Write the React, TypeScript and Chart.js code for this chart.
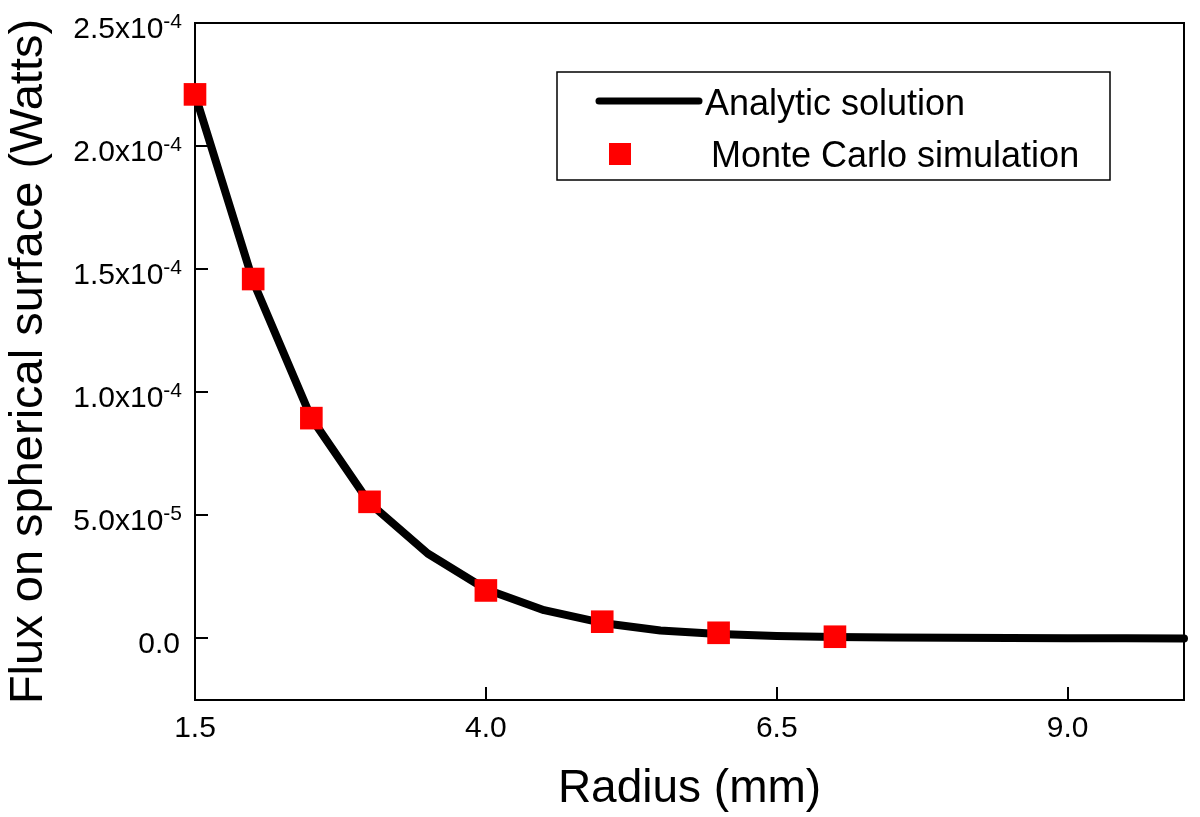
import React, { useEffect, useRef } from "react";
import { Chart, registerables } from "chart.js";

Chart.register(...registerables);

const analyticX = [1.5, 2.0, 2.5, 3.0, 3.5, 4.0, 4.5, 5.0, 5.5, 6.0, 6.5, 7.0, 7.5, 8.0, 8.5, 9.0, 9.5, 10.0];
const analyticY = [2.21e-4, 1.45e-4, 8.95e-5, 5.5e-5, 3.45e-5, 2.0e-5, 1.15e-5, 6.3e-6, 3.2e-6, 1.8e-6, 1.0e-6, 6e-7, 4e-7, 3e-7, 2e-7, 1e-7, 1e-7, 0];
const monteX = [1.5, 2.0, 2.5, 3.0, 4.0, 5.0, 6.0, 7.0];
const monteY = [2.21e-4, 1.46e-4, 8.95e-5, 5.55e-5, 1.95e-5, 6.8e-6, 2.3e-6, 7e-7];

const xTicks = [1.5, 4.0, 6.5, 9.0];
const xTickLabels = ["1.5", "4.0", "6.5", "9.0"];
const yTicks = [0, 5e-5, 1e-4, 1.5e-4, 2e-4, 2.5e-4];
const yTickBase = ["0.0", "5.0x10", "1.0x10", "1.5x10", "2.0x10", "2.5x10"];
const yTickExp = ["", "-5", "-4", "-4", "-4", "-4"];

const seriesNames = ["Monte Carlo simulation", "Analytic solution"];
const xTitle = "Radius (mm)";
const yTitle = "Flux on spherical surface (Watts)";

const FONT = '"Liberation Sans", Arial, sans-serif';

const decorPlugin = {
  id: "decor",
  beforeDatasetsDraw(chart: any) {
    const { ctx, chartArea: a, scales } = chart;
    ctx.save();
    ctx.strokeStyle = "#000";
    ctx.lineWidth = 2;
    ctx.strokeRect(a.left, a.top, a.right - a.left, a.bottom - a.top);
    ctx.beginPath();
    yTicks.forEach((v) => {
      const y = Math.round(scales.y.getPixelForValue(v));
      ctx.moveTo(a.left, y);
      ctx.lineTo(a.left + 13, y);
    });
    xTicks.forEach((v) => {
      const x = Math.round(scales.x.getPixelForValue(v));
      ctx.moveTo(x, a.bottom);
      ctx.lineTo(x, a.bottom - 13);
    });
    ctx.stroke();
    ctx.restore();
  },
  afterDraw(chart: any) {
    const { ctx, chartArea: a, scales } = chart;
    ctx.save();
    ctx.fillStyle = "#000";
    ctx.textBaseline = "alphabetic";
    // y tick labels with superscript exponents
    yTicks.forEach((v, i) => {
      const y = scales.y.getPixelForValue(v);
      const right = a.left - 13;
      ctx.font = `21px ${FONT}`;
      const ew = yTickExp[i] ? ctx.measureText(yTickExp[i]).width : 0;
      if (yTickExp[i]) {
        ctx.textAlign = "left";
        ctx.fillText(yTickExp[i], right - ew, y + 5);
      }
      ctx.font = `30px ${FONT}`;
      ctx.textAlign = "right";
      ctx.fillText(yTickBase[i], right - ew - (yTickExp[i] ? 0 : 2), y + 15);
    });

    // legend
    const lx = 557, ly = 72, lw = 553, lh = 108;
    ctx.strokeStyle = "#000";
    ctx.lineWidth = 1.5;
    ctx.strokeRect(lx, ly, lw, lh);
    ctx.beginPath();
    ctx.lineCap = "round";
    ctx.lineWidth = 7;
    ctx.moveTo(599, 101);
    ctx.lineTo(699, 101);
    ctx.stroke();
    ctx.fillStyle = "#ff0000";
    ctx.fillRect(609, 143, 22, 22);
    ctx.fillStyle = "#000";
    ctx.font = `36px ${FONT}`;
    ctx.textAlign = "left";
    ctx.fillText(seriesNames[1], 705, 115);
    ctx.fillText(seriesNames[0], 711, 167);
    ctx.restore();
  },
};

export default function App() {
  const ref = useRef<HTMLCanvasElement>(null);
  useEffect(() => {
    if (!ref.current) return;
    const chart = new Chart(ref.current, {
      type: "scatter",
      data: {
        datasets: [
          {
            label: seriesNames[0],
            data: monteX.map((x, i) => ({ x, y: monteY[i] })),
            showLine: false,
            pointStyle: "rect",
            pointRadius: 16,
            pointBackgroundColor: "#ff0000",
            pointBorderColor: "#ff0000",
            pointBorderWidth: 0,
            order: 0,
            clip: false,
          } as any,
          {
            label: seriesNames[1],
            data: analyticX.map((x, i) => ({ x, y: analyticY[i] })),
            showLine: true,
            borderColor: "#000",
            borderWidth: 8,
            borderCapStyle: "round",
            borderJoinStyle: "round",
            pointRadius: 0,
            tension: 0,
            order: 1,
            clip: false,
          } as any,
        ],
      },
      options: {
        responsive: false,
        animation: false,
        layout: { padding: { top: 23, right: 13, left: 0, bottom: 0 } },
        plugins: { legend: { display: false }, tooltip: { enabled: false } },
        scales: {
          x: {
            type: "linear",
            min: 1.5,
            max: 10,
            grid: { display: false, drawTicks: false },
            border: { display: false },
            afterBuildTicks: (s: any) => {
              s.ticks = xTicks.map((v) => ({ value: v }));
            },
            afterFit: (s: any) => {
              s.height = 117;
            },
            ticks: {
              padding: 11,
              color: "#000",
              font: { family: FONT, size: 30 },
              maxRotation: 0,
              autoSkip: false,
              callback: (_v: any, i: number) => xTickLabels[i],
            },
            title: {
              display: true,
              text: xTitle,
              color: "#000",
              font: { family: FONT, size: 46 },
              padding: { top: 0, bottom: 0 },
            },
          },
          y: {
            type: "linear",
            min: -2.5e-5,
            max: 2.5e-4,
            grid: { display: false, drawTicks: false },
            border: { display: false },
            afterBuildTicks: (s: any) => {
              s.ticks = yTicks.map((v) => ({ value: v }));
            },
            afterFit: (s: any) => {
              s.width = 195;
            },
            ticks: { display: false },
            title: {
              display: true,
              text: yTitle,
              color: "#000",
              font: { family: FONT, size: 47 },
              padding: { top: 1, bottom: 0 },
            },
          },
        },
      },
      plugins: [decorPlugin],
    });
    return () => chart.destroy();
  }, []);
  return (
    <div style={{ position: "absolute", left: 0, top: 0, width: 1200, height: 817, background: "#fff" }}>
      <canvas ref={ref} width={1200} height={817} style={{ display: "block" }} />
    </div>
  );
}
